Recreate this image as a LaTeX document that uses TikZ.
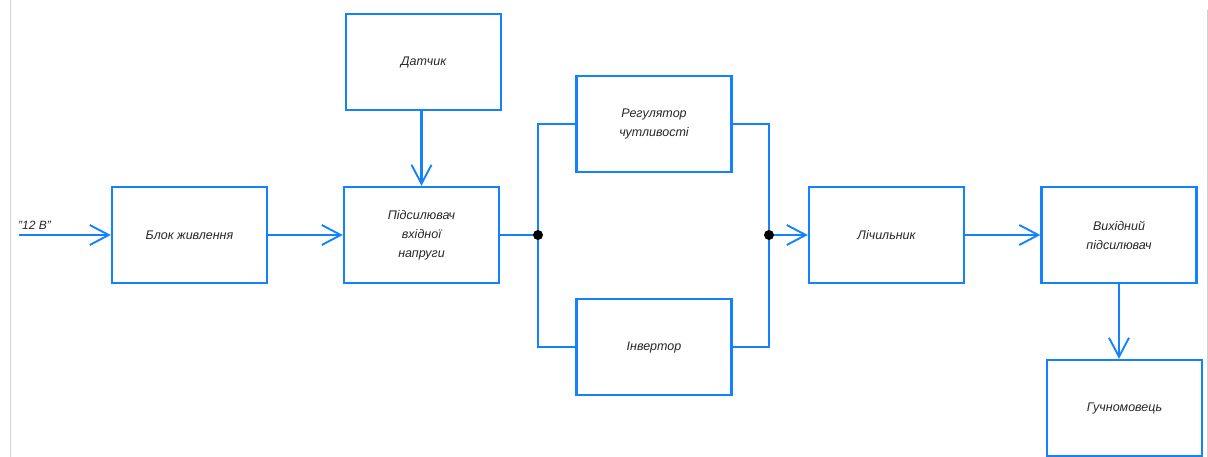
\documentclass[tikz,border=0pt]{standalone}
\usepackage{fontspec}
\setmainfont{Liberation Sans}
\usetikzlibrary{arrows.meta}
\definecolor{lineblue}{RGB}{20,130,255}
\begin{document}
\begin{tikzpicture}[x=1pt,y=-1pt,
 blk/.style={draw=lineblue, line width=2.4pt, minimum width=155pt, minimum height=96pt, inner sep=0pt, font=\itshape\fontsize{12.5}{19}\selectfont, align=center, text=black!85},
 conn/.style={draw=lineblue, line width=2.2pt},
 arr/.style={conn, -{Straight Barb[length=19pt,width=20pt,line width=1.9pt]}},
 jdot/.style={circle, fill=black, inner sep=0pt, minimum size=10pt},
 frame/.style={draw=black!18, line width=1pt}]
\useasboundingbox (0,0) rectangle (1208,457);
\draw[frame] (10,0) -- (10,457);
\draw[frame] (1207,10) -- (1207,457);
\node[blk] (bl) at (189.5,235) {Блок живлення};
\node[blk] (amp) at (421.5,235) {Підсилювач\\вхідної\\напруги};
\node[blk] (sens) at (423.5,62) {Датчик};
\node[blk] (reg) at (654,124) {Регулятор\\чутливості};
\node[blk] (inv) at (654,347) {Інвертор};
\node[blk] (cnt) at (886.5,235) {Лічильник};
\node[blk] (out) at (1119,235) {Вихідний\\підсилювач};
\node[blk] (spk) at (1124.5,408) {Гучномовець};
\coordinate (in) at (19,235);
\node[font=\itshape\fontsize{12}{13}\selectfont, text=black!85, anchor=south west, inner sep=1pt] (lbl) at (17,231) {"12 В"};
\coordinate (j1) at (538,235);
\coordinate (j2) at (769,235);
\draw[arr] (in) -- (bl.west);
\draw[arr] (bl.east) -- (amp.west);
\draw[arr] (amp.north |- sens.south) -- (amp.north);
\draw[conn] (amp.east) -- (j1);
\draw[conn] (reg.west) -| (j1) |- (inv.west);
\draw[conn] (reg.east) -| (j2) |- (inv.east);
\draw[arr] (j2) -- (cnt.west);
\draw[arr] (cnt.east) -- (out.west);
\draw[arr] (out.south) -- (out.south |- spk.north);
\node[jdot] (d1) at (j1) {};
\node[jdot] (d2) at (j2) {};
\end{tikzpicture}
\end{document}
